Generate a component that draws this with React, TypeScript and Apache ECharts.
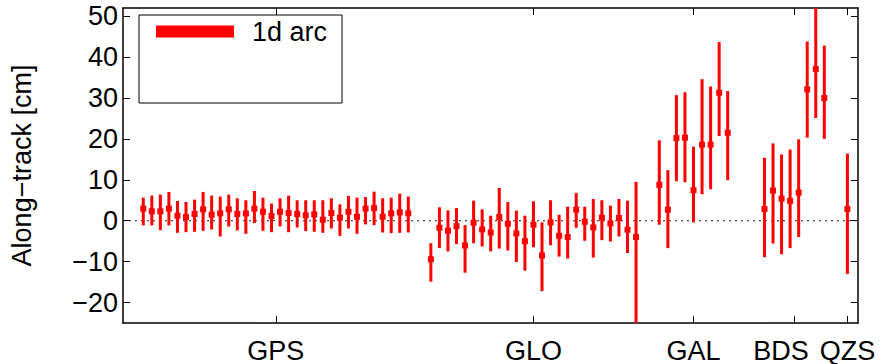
import React, { useEffect, useRef } from 'react';
import * as echarts from 'echarts';

// Satellite systems and the x-slot where each system's first satellite sits
const systems = ['GPS', 'GLO', 'GAL', 'BDS', 'QZS'];
const systemStart = [1, 34.64, 61.36, 73.66, 83.36];
// x position of each system's name under the axis
const systemLabelAt = [16.5, 46.64, 65.36, 75.6, 83.36];

// [mean, lower, upper] along-track values in cm, one per satellite
const gpsValues = [
  [2.95, -1.15, 5.65], [2.29, -1.15, 6.14], [2.29, -2.29, 6.39], [2.95, -1.15, 7.04],
  [1.23, -2.95, 4.83], [0.9, -2.8, 4.59], [1.64, -2.7, 5.16], [2.78, -2.46, 7.04],
  [1.48, -2.13, 6.14], [1.8, -3.85, 5.9], [2.78, -1.4, 6.39], [1.64, -2.38, 5.49],
  [1.8, -3.2, 5.0], [2.95, -0.57, 7.29], [2.2, -2.46, 5.65], [1.15, -2.8, 4.2],
  [2.2, -1.4, 5.49], [1.88, -2.8, 6.14], [1.64, -1.64, 5.0], [1.31, -2.54, 5.0],
  [1.56, -2.7, 5.0], [0.25, -2.95, 5.0], [1.88, -1.88, 5.49], [0.74, -3.7, 4.0],
  [2.2, -1.88, 6.06], [0.98, -3.2, 5.65], [2.95, -0.9, 5.8], [3.1, -1.07, 7.1],
  [0.98, -2.87, 5.49], [1.8, -3.03, 5.65], [2.05, -2.95, 6.63], [1.8, -2.87, 5.9],
];
const gloValues = [
  [-9.42, -14.9, -5.49], [-1.72, -6.7, 3.28], [-2.46, -7.5, 2.54], [-1.31, -5.7, 3.1],
  [-6.06, -12.7, -1.07], [-0.49, -5.49, 4.9], [-2.13, -6.3, 2.78], [-2.87, -7.5, 1.23],
  [0.9, -6.8, 8.0], [-0.74, -7.3, 4.59], [-3.11, -10.1, 2.46], [-5.0, -12.2, 1.23],
  [-0.98, -6.47, 4.75], [-8.5, -17.2, -0.41], [-0.41, -6.0, 5.0], [-3.69, -8.77, 1.47],
  [-4.0, -9.26, 3.44], [2.7, -1.72, 6.8], [-0.25, -4.9, 3.44], [-1.64, -9.0, 5.32],
  [0.74, -4.75, 5.0], [-0.66, -5.08, 3.69], [0.66, -3.85, 5.32], [-2.2, -7.9, 4.9],
  [-4.0, -30, 9.5],
];
const galValues = [
  [8.77, -0.98, 19.66], [2.7, -6.7, 12.36], [20.2, 9.66, 30.7], [20.3, 9.4, 31.4],
  [7.45, -0.41, 18.1], [18.6, 6.47, 34.6], [18.6, 7.7, 32.8], [31.3, 20.7, 43.7],
  [21.5, 9.9, 31.7],
];
const bdsValues = [
  [2.87, -8.9, 15.4], [7.37, -5.57, 18.9], [5.4, -8.2, 16.2], [4.83, -6.7, 17.4],
  [6.88, -4.0, 19.9], [32.1, 20.3, 43.8], [37.1, 25.1, 56], [30.0, 20.0, 42.8],
];
const qzsValues = [[2.87, -13.0, 16.4]];

const yTicks = [-20, -10, 0, 10, 20, 30, 40, 50];
const seriesName = '1d arc';
const yTitle = 'Along\u2212track [cm]';

const X_MIN = -1.37;
const X_MAX = 84.6;
const Y_MIN = -25;
const Y_MAX = 52;

const FONT = 'Liberation Sans, Arial, Helvetica, sans-serif';
const FS = 27;

export default function App() {
  const ref = useRef<HTMLDivElement>(null);

  useEffect(() => {
    if (!ref.current) return;
    const chart = echarts.init(ref.current, null, { renderer: 'svg' });

    const groups = [gpsValues, gloValues, galValues, bdsValues, qzsValues];
    const data: number[][] = [];
    const centers: number[] = [];
    groups.forEach((vals, gi) => {
      vals.forEach((v, k) => {
        data.push([systemStart[gi] + k, v[0], v[1], v[2]]);
      });
      centers.push(systemStart[gi] + (vals.length - 1) / 2);
    });
    const nameFor = (v: number) => {
      const i = systemLabelAt.findIndex((c) => Math.abs(c - v) < 1e-6);
      return i >= 0 ? systems[i] : '';
    };

    const axisLine = { show: true, onZero: false, lineStyle: { color: '#000', width: 1.5 } };
    const tickStyle = { color: '#000', width: 1 };

    const option: any = {
      animation: false,
      grid: { left: 122, right: 24, top: 8, bottom: 41 },
      legend: {
        show: true,
        left: 139,
        top: 15,
        orient: 'vertical',
        itemWidth: 78,
        itemHeight: 12,
        padding: [3, 15, 58, 17],
        borderColor: '#000',
        borderWidth: 1,
        borderRadius: 0,
        backgroundColor: '#fff',
        selectedMode: false,
        textStyle: { fontSize: FS, color: '#000', fontFamily: FONT, padding: [0, 0, 0, 13] },
        data: [{ name: seriesName, icon: 'rect' }],
      },
      xAxis: [
        {
          type: 'value', min: X_MIN, max: X_MAX, position: 'bottom',
          axisLine,
          splitLine: { show: false },
          axisTick: { show: true, inside: true, length: 7, customValues: centers, lineStyle: tickStyle },
          axisLabel: {
            customValues: systemLabelAt, formatter: (v: number) => nameFor(v),
            hideOverlap: false, showMinLabel: true, showMaxLabel: true,
            fontSize: FS, lineHeight: FS, color: '#000', fontFamily: FONT, margin: 14,
          },
        },
        {
          type: 'value', min: X_MIN, max: X_MAX, position: 'top',
          axisLine,
          splitLine: { show: false },
          axisTick: { show: true, inside: true, length: 7, customValues: centers, lineStyle: tickStyle },
          axisLabel: { show: false },
        },
      ],
      yAxis: [
        {
          type: 'value', min: Y_MIN, max: Y_MAX, position: 'left',
          name: yTitle, nameLocation: 'middle', nameGap: 88,
          nameTextStyle: { fontSize: FS, color: '#000', fontFamily: FONT },
          axisLine,
          splitLine: { show: false },
          axisTick: { show: true, inside: true, length: 7, customValues: yTicks, lineStyle: tickStyle },
          axisLabel: {
            customValues: yTicks, fontSize: FS, color: '#000', fontFamily: FONT, margin: 5,
            formatter: (v: number) => (v < 0 ? '\u2212' + Math.abs(v) : String(v)),
          },
        },
        {
          type: 'value', min: Y_MIN, max: Y_MAX, position: 'right',
          axisLine,
          splitLine: { show: false },
          axisTick: { show: true, inside: true, length: 7, customValues: yTicks, lineStyle: tickStyle },
          axisLabel: { show: false },
        },
      ],
      series: [
        {
          type: 'line',
          silent: true,
          z: 1,
          symbol: 'none',
          data: [[X_MIN, 0], [X_MAX, 0]],
          lineStyle: { color: '#222', width: 1.2, type: [2, 4] },
          legendHoverLink: false,
        },
        {
          type: 'custom',
          name: seriesName,
          z: 2,
          clip: true,
          itemStyle: { color: '#ff0000' },
          encode: { x: 0, y: [1, 2, 3] },
          data,
          renderItem: (params: any, api: any) => {
            const x = api.value(0);
            const pC = api.coord([x, api.value(1)]);
            const pLo = api.coord([x, api.value(2)]);
            const pHi = api.coord([x, api.value(3)]);
            return {
              type: 'group',
              children: [
                {
                  type: 'line',
                  shape: { x1: pLo[0], y1: pLo[1], x2: pHi[0], y2: pHi[1] },
                  style: { stroke: '#ff0000', lineWidth: 3 },
                },
                {
                  type: 'rect',
                  shape: { x: pC[0] - 3, y: pC[1] - 3, width: 6, height: 6 },
                  style: { fill: '#ff0000' },
                },
              ],
            };
          },
        },
      ],
    };

    chart.setOption(option);
    return () => chart.dispose();
  }, []);

  return <div ref={ref} style={{ width: 882, height: 364, position: 'absolute', left: 0, top: 0 }} />;
}
